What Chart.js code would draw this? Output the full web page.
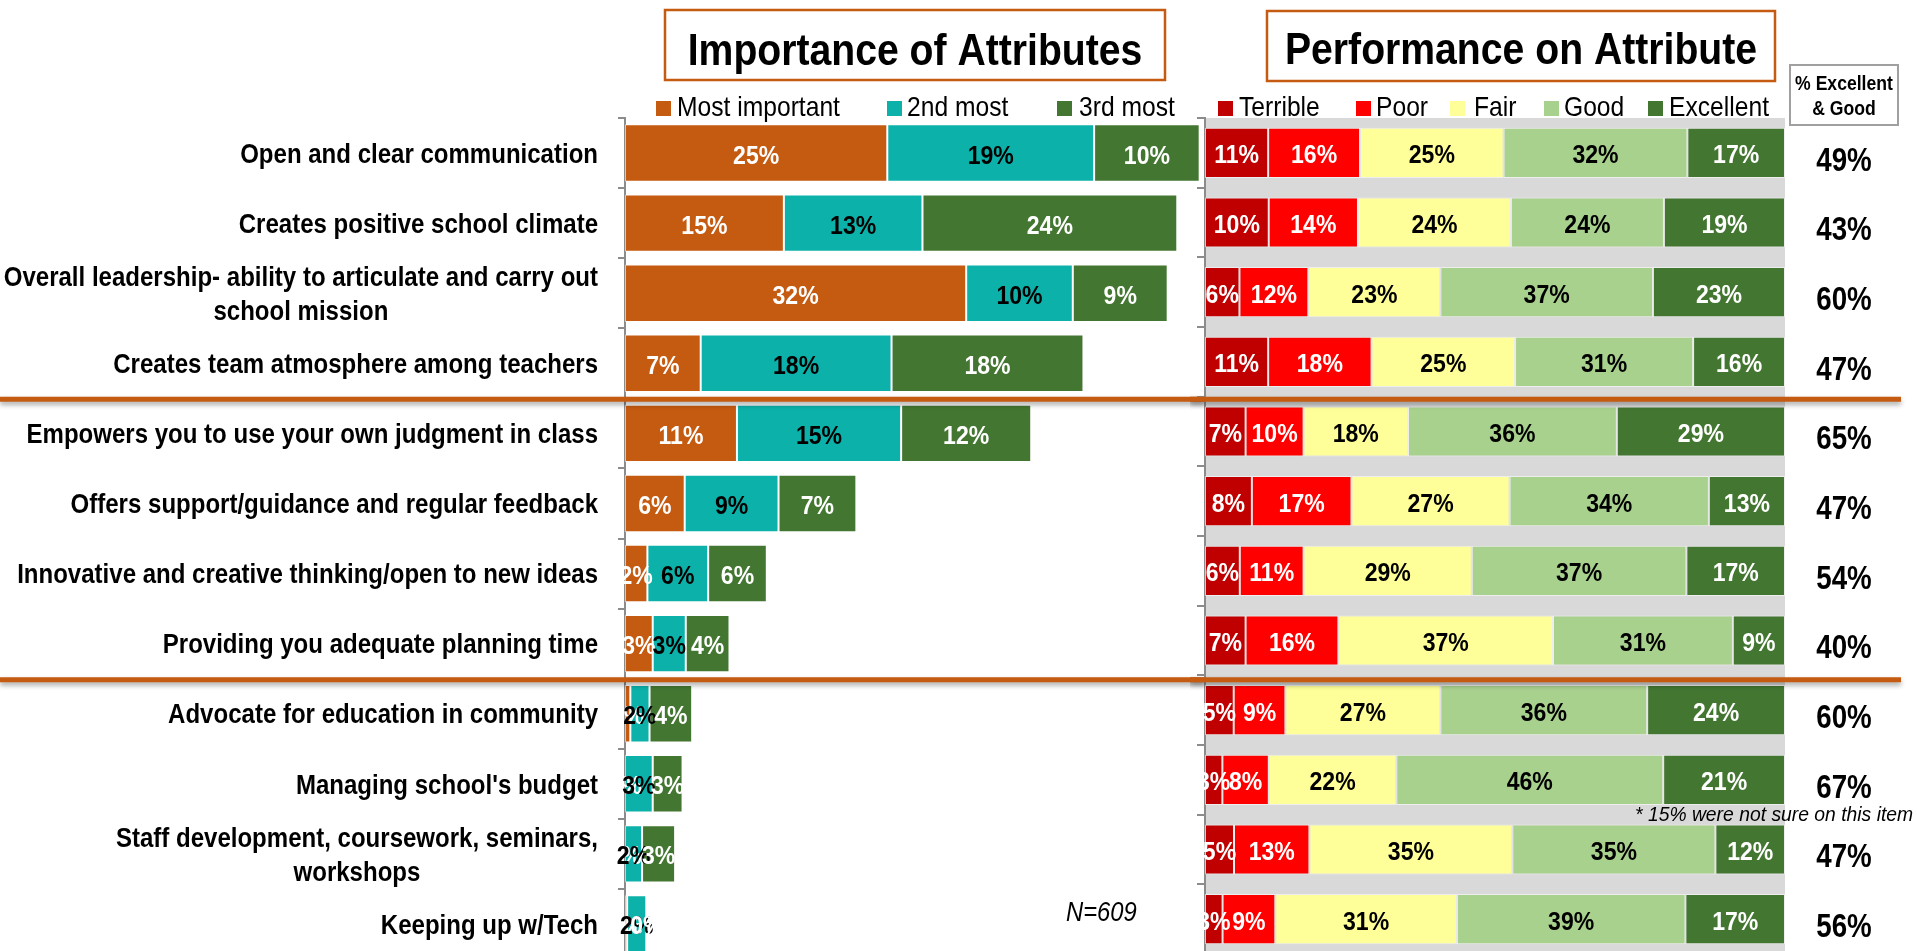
<!DOCTYPE html>
<html>
<head>
<meta charset="utf-8">
<title>Importance of Attributes / Performance on Attribute</title>
<script src="https://cdn.jsdelivr.net/npm/chart.js@4.4.1/dist/chart.umd.min.js"></script>
<style>
  html, body { margin: 0; padding: 0; background: #fff; overflow: hidden; }
  #graficoImportancia { position: absolute; left: 0; top: 0; }
  #graficoDesempenho { position: absolute; left: 1190px; top: 0; }
</style>
</head>
<body>
<canvas id="graficoImportancia" width="1205" height="960"></canvas>
<canvas id="graficoDesempenho" width="727" height="960"></canvas>
<script>
// dados
const atributos = [
  'Open and clear communication',
  'Creates positive school climate',
  ['Overall leadership- ability to articulate and carry out', 'school mission'],
  'Creates team atmosphere among teachers',
  'Empowers you to use your own judgment in class',
  'Offers support/guidance and regular feedback',
  'Innovative and creative thinking/open to new ideas',
  'Providing you adequate planning time',
  'Advocate for education in community',
  "Managing school's budget",
  ['Staff development, coursework, seminars,', 'workshops'],
  'Keeping up w/Tech',
];

// importancia (%)
const maisImportante = [24.6, 14.9, 32.0, 7.1, 10.5, 5.6, 2.1, 2.6, 0.5, 0, 0, 0.2];
const segundoMais = [19.4, 13.0, 10.0, 17.9, 15.4, 8.8, 5.7, 3.1, 1.8, 2.6, 1.6, 1.8];
const terceiroMais = [9.9, 23.9, 8.9, 18.0, 12.2, 7.3, 5.5, 4.1, 4.0, 2.8, 3.1, 0.1];

// desempenho (%) como aparece nos rotulos
const pessimo = [11, 10, 6, 11, 7, 8, 6, 7, 5, 3, 5, 3];
const ruim = [16, 14, 12, 18, 10, 17, 11, 16, 9, 8, 13, 9];
const regular = [25, 24, 23, 25, 18, 27, 29, 37, 27, 22, 35, 31];
const bom = [32, 24, 37, 31, 36, 34, 37, 31, 36, 46, 35, 39];
const excelente = [17, 19, 23, 16, 29, 13, 17, 9, 24, 21, 12, 17];
const excelenteBom = [49, 43, 60, 47, 65, 47, 54, 40, 60, 67, 47, 56];

// posicoes (em categorias) das linhas laranja
const divisoes = [3.5, 7.5];

const FAMILIA = '"Liberation Sans", Arial, sans-serif';
const LARANJA = '#c55a11';
const CINZA_EIXO = '#8c8c8c';
let linhasDivisorias = [];

// texto levemente condensado, y = meio da altura das maiusculas
function escreve(ctx, texto, x, y, tamanho, opcoes) {
  const o = Object.assign({ peso: 'normal', estilo: 'normal', cor: '#000', alinh: 'left', sx: 0.9 }, opcoes);
  ctx.save();
  ctx.font = `${o.estilo} ${o.peso} ${tamanho}px ${FAMILIA}`;
  ctx.fillStyle = o.cor;
  ctx.textAlign = o.alinh;
  ctx.textBaseline = 'alphabetic';
  ctx.translate(x, y + tamanho * 0.36);
  ctx.scale(o.sx, 1);
  ctx.fillText(texto, 0, 0);
  ctx.restore();
}

function largura(ctx, texto, tamanho, peso, sx) {
  ctx.save();
  ctx.font = `${peso} ${tamanho}px ${FAMILIA}`;
  const w = ctx.measureText(texto).width * sx;
  ctx.restore();
  return w;
}

function caixaTitulo(ctx, texto, x0, y0, x1, y1, cx, cy) {
  ctx.save();
  ctx.fillStyle = '#fff';
  ctx.fillRect(x0, y0, x1 - x0, y1 - y0);
  ctx.strokeStyle = LARANJA;
  ctx.lineWidth = 2.5;
  ctx.strokeRect(x0, y0, x1 - x0, y1 - y0);
  ctx.restore();
  escreve(ctx, texto, cx, cy, 45, { peso: 'bold', alinh: 'center', sx: 0.87 });
}

function legenda(ctx, chart, posicoes) {
  chart.data.datasets.forEach((ds, i) => {
    ctx.fillStyle = ds.backgroundColor;
    ctx.fillRect(posicoes[i][0], 101, 15, 15);
    escreve(ctx, ds.label, posicoes[i][1], 106, 28, { sx: 0.88 });
  });
}

function desenhaDivisorias(ctx, x0, x1) {
  ctx.save();
  ctx.strokeStyle = LARANJA;
  ctx.lineWidth = 5;
  ctx.shadowColor = 'rgba(0,0,0,0.35)';
  ctx.shadowBlur = 5;
  ctx.shadowOffsetY = 3;
  linhasDivisorias.forEach((y) => {
    ctx.beginPath();
    ctx.moveTo(x0, y);
    ctx.lineTo(x1, y);
    ctx.stroke();
  });
  ctx.restore();
}

const rotulosBarras = {
  id: 'rotulosBarras',
  afterDatasetsDraw(chart) {
    const ctx = chart.ctx;
    chart.data.datasets.forEach((ds, i) => {
      const meta = chart.getDatasetMeta(i);
      meta.data.forEach((el, j) => {
        const valor = ds.rotulos ? ds.rotulos[j] : ds.data[j];
        const x = (el.x + el.base) / 2;
        escreve(ctx, Math.round(valor) + '%', x, el.y + 1, 26.5, { peso: 'bold', cor: ds.corRotulo, alinh: 'center', sx: 0.87 });
      });
    });
  },
};

const decoracaoImportancia = {
  id: 'decoracaoImportancia',
  afterDraw(chart) {
    const ctx = chart.ctx;
    const escala = chart.scales.y;
    const direita = 598;

    // rotulos das categorias
    chart.data.labels.forEach((rot, i) => {
      const yc = escala.getPixelForTick(i);
      const linhas = Array.isArray(rot) ? rot : [rot];
      if (linhas.length === 1) {
        escreve(ctx, linhas[0], direita, yc, 27, { peso: 'bold', alinh: 'right', sx: 0.89 });
        return;
      }
      const maior = Math.max(...linhas.map((l) => largura(ctx, l, 27, 'bold', 0.89)));
      const centro = direita - maior / 2;
      linhas.forEach((l, k) => {
        escreve(ctx, l, centro, yc + (k - (linhas.length - 1) / 2) * 34, 27, { peso: 'bold', alinh: 'center', sx: 0.89 });
      });
    });

    caixaTitulo(ctx, 'Importance of Attributes', 665, 10, 1165, 80, 915, 48.5);
    legenda(ctx, chart, [[656, 677], [887, 907], [1057, 1079]]);
    escreve(ctx, 'N=609', 1066, 911, 28, { estilo: 'italic', sx: 0.85 });

    linhasDivisorias = divisoes.map((v) => escala.getPixelForValue(v) + 1);
    desenhaDivisorias(ctx, 0, chart.width);
  },
};

const decoracaoDesempenho = {
  id: 'decoracaoDesempenho',
  beforeDraw(chart) {
    const a = chart.chartArea;
    const ctx = chart.ctx;
    ctx.save();
    ctx.fillStyle = '#d9d9d9';
    ctx.fillRect(a.left, a.top, a.right - a.left, a.bottom - a.top);
    ctx.restore();
  },
  afterDraw(chart) {
    const ctx = chart.ctx;
    const escala = chart.scales.y;
    ctx.save();
    ctx.translate(-1190, 0);
    caixaTitulo(ctx, 'Performance on Attribute', 1267, 11, 1775, 81, 1521, 47.5);
    legenda(ctx, chart, [[1218, 1239], [1356, 1376], [1450, 1474], [1544, 1564], [1648, 1669]]);

    ctx.strokeStyle = '#a0a0a0';
    ctx.lineWidth = 2;
    ctx.strokeRect(1790, 65, 108, 60);
    escreve(ctx, '% Excellent', 1844, 83, 20, { peso: 'bold', alinh: 'center', sx: 0.88 });
    escreve(ctx, '& Good', 1844, 108, 20, { peso: 'bold', alinh: 'center', sx: 0.88 });

    excelenteBom.forEach((v, i) => {
      escreve(ctx, v + '%', 1844, escala.getPixelForTick(i) + 6, 33, { peso: 'bold', alinh: 'center', sx: 0.84 });
    });

    escreve(ctx, '* 15% were not sure on this item', 1635, 813, 21, { estilo: 'italic', sx: 0.92 });
    ctx.restore();

    desenhaDivisorias(ctx, 0, 1901 - 1190);
  },
};

function eixoCategorias(largEixo, tamTick) {
  return {
    stacked: true,
    afterFit: (s) => { s.width = largEixo; },
    ticks: { display: false },
    grid: { drawOnChartArea: false, tickLength: tamTick, color: CINZA_EIXO, lineWidth: 2, offset: true },
    border: { display: true, color: CINZA_EIXO, width: 2 },
  };
}

function criarGraficos() {
  const canvasImp = document.getElementById('graficoImportancia');
  const canvasDes = document.getElementById('graficoDesempenho');

  const graficoImportancia = new Chart(canvasImp.getContext('2d'), {
    type: 'bar',
    data: {
      labels: atributos,
      datasets: [
        { label: 'Most important', data: maisImportante, backgroundColor: LARANJA, corRotulo: '#fff' },
        { label: '2nd most', data: segundoMais, backgroundColor: '#0cb1a9', corRotulo: '#000' },
        { label: '3rd most', data: terceiroMais, backgroundColor: '#437631', corRotulo: '#fff' },
      ],
    },
    options: {
      indexAxis: 'y',
      responsive: false,
      animation: false,
      devicePixelRatio: 1,
      layout: { padding: { top: 118, bottom: 1, left: 0, right: 0 } },
      datasets: {
        bar: { barPercentage: 0.82, categoryPercentage: 1, borderWidth: 1, borderColor: 'rgba(255,255,255,0.55)', borderSkipped: false },
      },
      plugins: { legend: { display: false }, tooltip: { enabled: false } },
      scales: {
        x: { stacked: true, display: false, min: 0, max: 54.4 },
        y: eixoCategorias(625, 7),
      },
    },
    plugins: [rotulosBarras, decoracaoImportancia],
  });

  // barras de 100%: cada linha dividida pelo seu total
  const series = [pessimo, ruim, regular, bom, excelente];
  const totais = atributos.map((_, i) => series.reduce((s, serie) => s + serie[i], 0));
  const emPct = (serie) => serie.map((v, i) => (v / totais[i]) * 100);

  new Chart(canvasDes.getContext('2d'), {
    type: 'bar',
    data: {
      labels: atributos,
      datasets: [
        { label: 'Terrible', data: emPct(pessimo), rotulos: pessimo, backgroundColor: '#c00000', corRotulo: '#fff' },
        { label: 'Poor', data: emPct(ruim), rotulos: ruim, backgroundColor: '#ff0000', corRotulo: '#fff' },
        { label: 'Fair', data: emPct(regular), rotulos: regular, backgroundColor: '#ffff99', corRotulo: '#000' },
        { label: 'Good', data: emPct(bom), rotulos: bom, backgroundColor: '#a9d18e', corRotulo: '#000' },
        { label: 'Excellent', data: emPct(excelente), rotulos: excelente, backgroundColor: '#437631', corRotulo: '#fff' },
      ],
    },
    options: {
      indexAxis: 'y',
      responsive: false,
      animation: false,
      devicePixelRatio: 1,
      layout: { padding: { top: 118, bottom: 6, left: 0, right: 132 } },
      datasets: {
        bar: { barPercentage: 0.72, categoryPercentage: 1, borderWidth: 1, borderColor: 'rgba(255,255,255,0.55)', borderSkipped: false },
      },
      plugins: { legend: { display: false }, tooltip: { enabled: false } },
      scales: {
        x: { stacked: true, display: false, min: 0, max: 100 },
        y: eixoCategorias(15, 8),
      },
    },
    plugins: [rotulosBarras, decoracaoDesempenho],
  });

  return graficoImportancia;
}

document.addEventListener('DOMContentLoaded', criarGraficos);
</script>
</body>
</html>
